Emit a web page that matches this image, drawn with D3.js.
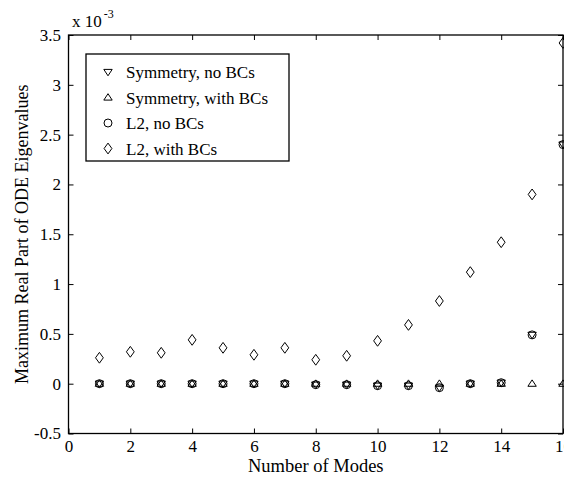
<!DOCTYPE html>
<html>
<head>
<meta charset="utf-8">
<script src="https://cdn.jsdelivr.net/npm/d3@7"></script>
<style>
  body { margin: 0; background: #fff; }
  svg { display: block; font-family: "Liberation Serif", "Times New Roman", serif; }
</style>
</head>
<body>
<svg id="chart" width="564" height="486"></svg>
<script>
// values in units of 1e-3
const modes = [1, 2, 3, 4, 5, 6, 7, 8, 9, 10, 11, 12, 13, 14, 15, 16];
const symNoBCs   = [0, 0, 0, 0, 0, 0, 0, -0.01, -0.01, -0.02, -0.02, -0.04, 0.0, 0.01, 0.49, 2.4];
const symWithBCs = [0, 0, 0, 0, 0, 0, 0, 0, 0, 0, 0, 0, 0, 0, 0, 0];
const l2NoBCs    = [0, 0, 0, 0, 0, 0, 0, -0.01, -0.01, -0.02, -0.02, -0.04, 0.0, 0.01, 0.49, 2.4];
const l2WithBCs  = [0.26, 0.32, 0.31, 0.44, 0.36, 0.29, 0.36, 0.24, 0.28, 0.43, 0.59, 0.83, 1.12, 1.42, 1.90, 3.42];
const xTicks = [0, 2, 4, 6, 8, 10, 12, 14, 16];
const yTicks = [-0.5, 0, 0.5, 1, 1.5, 2, 2.5, 3, 3.5];
const legendLabels = ["Symmetry, no BCs", "Symmetry, with BCs", "L2, no BCs", "L2, with BCs"];

const svg = d3.select('#chart');
const pLeft = 68.5, pRight = 563, pTop = 35, pBottom = 433.5;

var x = d3.scaleLinear().domain([0, 16]).range([pLeft, pRight]);
var y = d3.scaleLinear().domain([-0.5, 3.5]).range([pBottom, pTop]);

// marker shapes
function markerPath(kind) {
    if (kind == 'tdown') return 'M-4.2,-2.6L4.2,-2.6L0,3.8Z';
    if (kind == 'tup') return 'M-4.2,2.6L4.2,2.6L0,-3.8Z';
    if (kind == 'circle') return 'M4,0A4,4 0 1,1 -4,0A4,4 0 1,1 4,0Z';
    return 'M0,-5.4L3.9,0L0,5.4L-3.9,0Z';
}

const series = [
    { vals: symNoBCs, kind: 'tdown' },
    { vals: symWithBCs, kind: 'tup' },
    { vals: l2NoBCs, kind: 'circle' },
    { vals: l2WithBCs, kind: 'diamond' }
];

// axes with inside ticks on all four sides
svg.append('g')
    .attr('transform', 'translate(0,' + pBottom + ')')
    .call(d3.axisBottom(x).tickValues(xTicks).tickSizeInner(-5).tickSizeOuter(0).tickPadding(6.5))
    .call(g => g.select('.domain').remove());
svg.append('g')
    .attr('transform', 'translate(0,' + pTop + ')')
    .call(d3.axisTop(x).tickValues(xTicks).tickSizeInner(-5).tickSizeOuter(0).tickFormat(''))
    .call(g => g.select('.domain').remove());
svg.append('g')
    .attr('transform', 'translate(' + pLeft + ',0)')
    .call(d3.axisLeft(y).tickValues(yTicks).tickSizeInner(-5).tickSizeOuter(0).tickPadding(7.5).tickFormat(function(d) { return String(d) }))
    .call(g => g.select('.domain').remove());
svg.append('g')
    .attr('transform', 'translate(' + pRight + ',0)')
    .call(d3.axisRight(y).tickValues(yTicks).tickSizeInner(-5).tickSizeOuter(0).tickFormat(''))
    .call(g => g.select('.domain').remove());

svg.selectAll('.tick text')
    .attr('font-family', '"Liberation Serif", serif')
    .attr('font-size', 17)
    .attr('fill', '#000');
svg.selectAll('.tick line').attr('stroke', '#000');

svg.append('rect')
    .attr('x', pLeft).attr('y', pTop)
    .attr('width', pRight - pLeft).attr('height', pBottom - pTop)
    .attr('fill', 'none').attr('stroke', '#000').attr('stroke-width', 1.3);

// points
series.forEach(function(s) {
    svg.append('g').selectAll('path').data(modes).enter().append('path')
        .attr('d', markerPath(s.kind))
        .attr('transform', function(d, i) { return 'translate(' + x(d) + ',' + y(s.vals[i]) + ')' })
        .attr('fill', 'none')
        .attr('stroke', '#000')
        .attr('stroke-width', 1);
});

// exponent label
const ex = svg.append('text').attr('x', 72).attr('y', 27).attr('font-size', 17);
ex.append('tspan').text('x 10');
ex.append('tspan').attr('dx', 2).attr('dy', -9).attr('font-size', 12).text('-3');

// legend
const lg = svg.append('g');
lg.append('rect')
    .attr('x', 86).attr('y', 54).attr('width', 203).attr('height', 107)
    .attr('fill', '#fff').attr('stroke', '#000').attr('stroke-width', 1.3);
legendLabels.forEach(function(lbl, i) {
    var yy = 72 + i * 25.5;
    lg.append('path').attr('d', markerPath(series[i].kind))
        .attr('transform', 'translate(108,' + yy + ')')
        .attr('fill', 'none').attr('stroke', '#000');
    lg.append('text').attr('x', 126).attr('y', yy + 6).attr('font-size', 17).text(lbl);
});

// axis titles
svg.append('text')
    .attr('x', (pLeft + pRight) / 2).attr('y', 472)
    .attr('text-anchor', 'middle').attr('font-size', 18.5)
    .text('Number of Modes');
svg.append('text')
    .attr('transform', 'translate(28,' + ((pTop + pBottom) / 2) + ') rotate(-90)')
    .attr('text-anchor', 'middle').attr('font-size', 18)
    .text('Maximum Real Part of ODE Eigenvalues');
</script>
</body>
</html>
